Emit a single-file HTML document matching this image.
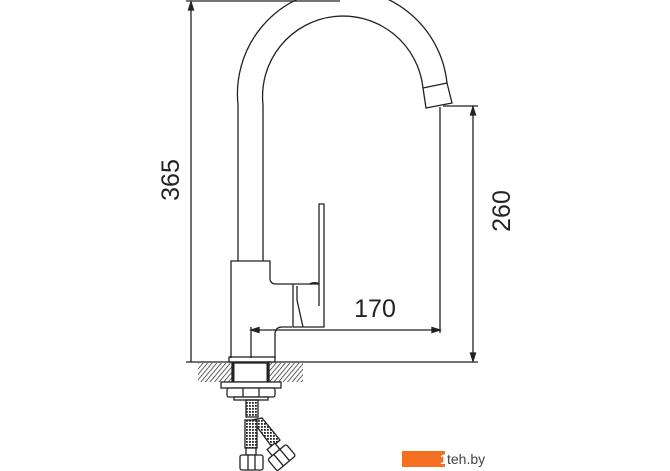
<!DOCTYPE html>
<html><head><meta charset="utf-8"><style>
html,body{margin:0;padding:0;background:#fff;}
svg{display:block}
</style></head><body>
<svg width="670" height="471" viewBox="0 0 670 471" xmlns="http://www.w3.org/2000/svg">
<defs>
<pattern id="h" width="3.5" height="3.5" patternUnits="userSpaceOnUse" patternTransform="rotate(40)">
<line x1="0" y1="0" x2="0" y2="3.5" stroke="#222" stroke-width="1.4"/>
</pattern>
<pattern id="m" width="3" height="3" patternUnits="userSpaceOnUse">
<rect width="3" height="3" fill="#fff"/><rect width="1.8" height="1.8" fill="#222"/>
</pattern>
</defs>
<g fill="none" stroke="#222" stroke-width="1.3">
<line x1="186" y1="1" x2="340" y2="1"/>
<line x1="191" y1="2" x2="191" y2="362"/>
<path d="M191 2 l-2.5 8 h5 z" fill="#222"/>
<line x1="186" y1="362" x2="478" y2="362"/>
<line x1="443" y1="106" x2="478" y2="106"/>
<line x1="473" y1="106" x2="473" y2="361"/>
<path d="M473 107 l-2.5 8 h5 z" fill="#222"/>
<path d="M473 361 l-2.5 -8 h5 z" fill="#222"/>
<line x1="440" y1="107" x2="440" y2="333"/>
<line x1="251" y1="327" x2="251" y2="358"/>
<line x1="251" y1="330" x2="440" y2="330"/>
<path d="M251 330 l8 -2.5 v5 z" fill="#222"/>
<path d="M440 330 l-8 -2.5 v5 z" fill="#222"/>
<path d="M238 261 V105 A105 105 0 0 1 447 83"/>
<path d="M263 261 V105 A80 80 0 0 1 423 88"/>
<path d="M423 88 L447 83 L452 103 L426 108 Z"/>
<path d="M231 358 V261 H270 V278 Q270 284 276 284 H318"/>
<path d="M293 284 V327 H324 V204 H319 V306"/>
<path d="M297 286 V300 L303 327"/>
<path d="M292 327 H282 Q276 327 275 333 V358"/>
<path d="M310 284 q5 -2 9 0" stroke-width="2"/>
<rect x="229" y="357" width="46" height="5"/>
</g>
<rect x="198" y="363" width="105" height="19" fill="url(#h)"/>
<rect x="232" y="363" width="37" height="19" fill="#fff" stroke="#222" stroke-width="1.3"/>
<line x1="233" y1="363" x2="233" y2="382" stroke="#222" stroke-width="3"/>
<line x1="268" y1="363" x2="268" y2="382" stroke="#222" stroke-width="3"/>
<g fill="#fff" stroke="#222" stroke-width="1.3">
<rect x="221" y="382" width="60" height="6"/>
<rect x="227" y="388" width="48" height="9" rx="2"/>
<line x1="243" y1="388" x2="243" y2="397"/><line x1="259" y1="388" x2="259" y2="397"/>
<rect x="234" y="397" width="34" height="3"/>
<rect x="246" y="400" width="12" height="17" fill="url(#m)"/>
<path d="M252 420 L262 418 L280 440 L272 447 Z" fill="url(#m)"/>
<rect x="245" y="420" width="12" height="28" fill="url(#m)"/>
<rect x="246" y="448" width="10" height="7"/>
<rect x="240" y="455" width="23" height="15" rx="2"/>
<line x1="248" y1="455" x2="248" y2="470"/><line x1="255" y1="455" x2="255" y2="470"/>
<g transform="rotate(-40 282 458)">
<rect x="276" y="442" width="10" height="8"/>
<rect x="270" y="450" width="24" height="15" rx="2"/>
<line x1="278" y1="450" x2="278" y2="465"/><line x1="286" y1="450" x2="286" y2="465"/>
</g>
</g>
<g font-family="'Liberation Sans',sans-serif" font-size="25" fill="#222">
<text transform="translate(179 180) rotate(-90)" text-anchor="middle">365</text>
<text transform="translate(510 211) rotate(-90)" text-anchor="middle">260</text>
<text x="375" y="317" text-anchor="middle">170</text>
</g>
<rect x="402" y="451" width="43" height="16" fill="#f36f21"/>
<text x="440" y="464" font-family="'Liberation Sans',sans-serif" font-size="14" font-weight="bold" fill="#fff">1</text>
<text x="447" y="464" font-family="'Liberation Sans',sans-serif" font-size="14" fill="#444">teh.by</text>
</svg>
</body></html>
